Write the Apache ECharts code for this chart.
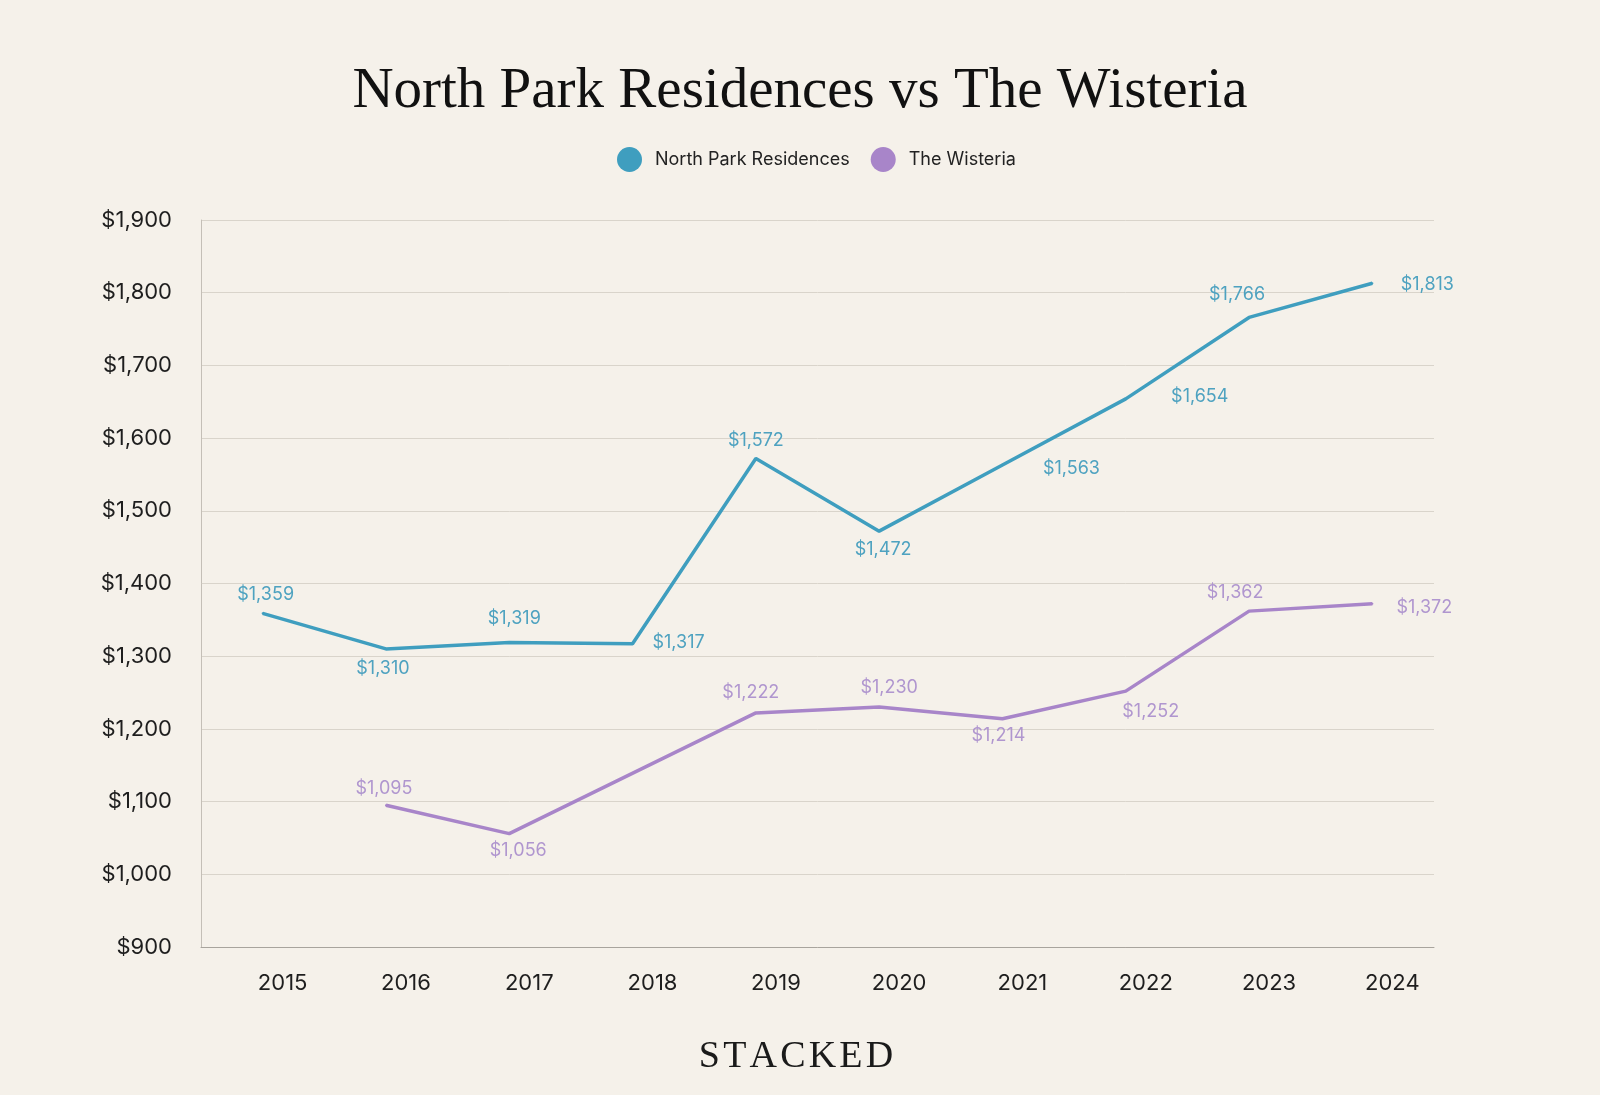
<!DOCTYPE html>
<html>
<head>
<meta charset="utf-8">
<script src="https://cdn.jsdelivr.net/npm/echarts@6/dist/echarts.min.js"></script>
<style>
  html, body { margin: 0; padding: 0; background: #f5f1ea; }
  #chart { width: 1600px; height: 1095px; }
</style>
</head>
<body>
<div id="chart"></div>
<script>
// ---- data ----
const years = ['2015', '2016', '2017', '2018', '2019', '2020', '2021', '2022', '2023', '2024'];
const northPark = [1359, 1310, 1319, 1317, 1572, 1472, 1563, 1654, 1766, 1813];
const wisteria = [null, 1095, 1056, null, 1222, 1230, 1214, 1252, 1362, 1372];
const yTicks = [900, 1000, 1100, 1200, 1300, 1400, 1500, 1600, 1700, 1800, 1900];

// ---- label placement (style only) ----
const northParkLabelOffsets = [[3, -19], [-3, 20], [5, -24], [46, -1], [0, -18], [4, 18], [69, 4], [74, -2], [-12, -23], [55, 1]];
const wisteriaLabelOffsets = [null, [-2, -17], [9, 17], null, [-5, -20], [10, -19], [-4, 17], [25, 20], [-14, -19], [52, 4]];

const BLUE = '#3f9ebf';
const BLUE_LABEL = '#4ea2c0';
const PURPLE = '#a885c9';
const PURPLE_LABEL = '#b096cf';
const SANS = 'Inter, "Noto Sans", sans-serif';
const SERIF = '"Liberation Serif", "DejaVu Serif", serif';

function fmt(v) {
  return '$' + v.toLocaleString('en-US');
}

function buildData(values, offsets, color) {
  return values.map((v, i) => {
    if (v === null) return null;
    return {
      value: v,
      label: {
        show: true,
        position: 'inside',
        align: 'center',
        verticalAlign: 'middle',
        offset: offsets[i],
        color: color,
        fontSize: 18,
        fontFamily: SANS,
        formatter: p => fmt(p.value)
      }
    };
  });
}

const chart = echarts.init(document.getElementById('chart'), null, { renderer: 'canvas' });
chart.setOption({
  backgroundColor: '#f5f1ea',
  animation: false,
  title: {
    text: 'North Park Residences vs The Wisteria',
    left: 'center',
    top: 59,
    textStyle: {
      fontFamily: SERIF,
      fontWeight: 'normal',
      fontSize: 57,
      color: '#111111'
    }
  },
  legend: {
    top: 142,
    left: 612,
    icon: 'circle',
    itemWidth: 25,
    itemHeight: 25,
    itemGap: 21,
    textStyle: {
      fontFamily: SANS,
      fontSize: 18,
      color: '#222222',
      padding: [0, 0, 0, 8]
    },
    data: ['North Park Residences', 'The Wisteria']
  },
  grid: {
    left: 201,
    right: 166,
    top: 220,
    bottom: 148,
    containLabel: false
  },
  xAxis: {
    type: 'category',
    data: years,
    boundaryGap: true,
    axisLine: { show: true, lineStyle: { color: '#a8a49d', width: 1 } },
    axisTick: { show: false },
    axisLabel: {
      color: '#1e1e1e',
      fontSize: 22,
      fontFamily: SANS,
      margin: 25,
      padding: [0, 0, 0, 40]
    },
    splitLine: { show: false }
  },
  yAxis: {
    type: 'value',
    min: yTicks[0],
    max: yTicks[yTicks.length - 1],
    interval: 100,
    axisLine: { show: true, lineStyle: { color: '#c4bfb7', width: 1 } },
    axisTick: { show: false },
    axisLabel: {
      color: '#1e1e1e',
      fontSize: 22,
      fontFamily: SANS,
      margin: 29,
      formatter: v => fmt(v)
    },
    splitLine: { show: true, lineStyle: { color: '#d9d4cb', width: 1 } }
  },
  series: [
    {
      name: 'North Park Residences',
      type: 'line',
      data: buildData(northPark, northParkLabelOffsets, BLUE_LABEL),
      symbol: 'circle',
      symbolSize: 2,
      itemStyle: { color: BLUE },
      lineStyle: { color: BLUE, width: 3.5 },
      z: 3
    },
    {
      name: 'The Wisteria',
      type: 'line',
      data: buildData(wisteria, wisteriaLabelOffsets, PURPLE_LABEL),
      connectNulls: true,
      symbol: 'circle',
      symbolSize: 2,
      itemStyle: { color: PURPLE },
      lineStyle: { color: PURPLE, width: 3.5 },
      z: 3
    }
  ],
  graphic: [
    {
      type: 'text',
      x: 796,
      y: 1057,
      style: {
        text: 'S\u200AT\u200AA\u200AC\u200AK\u200AE\u200AD',
        font: '38px ' + SERIF,
        fill: '#1a1a1a',
        align: 'center',
        verticalAlign: 'middle'
      }
    }
  ]
});
</script>
</body>
</html>
